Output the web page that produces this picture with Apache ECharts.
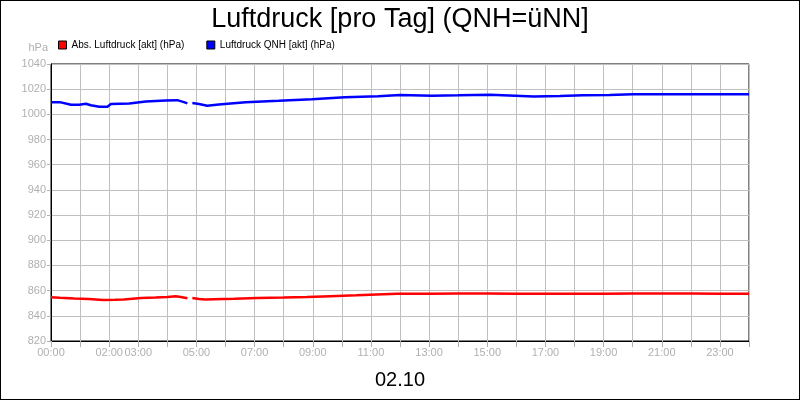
<!DOCTYPE html>
<html>
<head>
<meta charset="utf-8">
<script src="https://cdn.jsdelivr.net/npm/echarts@6/dist/echarts.min.js"></script>
<style>
  html, body { margin: 0; padding: 0; background: #fff; }
  #chart { width: 800px; height: 400px; box-sizing: border-box; border: 1px solid #000; }
</style>
</head>
<body>
<div id="chart"></div>
<script>
// hours of the day (null value = gap in the record)
var absHours = [0, 0.3, 0.8, 1.3, 1.8, 2.2, 2.5, 3.1, 3.6, 4.0, 4.29, 4.46, 4.69, 4.78, 4.86, 5.09, 5.31, 5.6, 6.3, 7.1, 8.0, 8.8, 9.6, 10.5, 11.2, 11.9, 13.0, 14.0, 15.0, 16.0, 17.0, 18.0, 19.0, 20.0, 21.0, 22.0, 23.0, 24.0];
var absValues = [854.7, 854.3, 853.7, 853.3, 852.6, 852.7, 852.9, 854.2, 854.6, 855.0, 855.6, 855.0, 854.0, null, 854.2, 853.4, 852.9, 853.2, 853.6, 854.2, 854.5, 855.0, 855.6, 856.3, 857.0, 857.6, 857.6, 857.7, 857.8, 857.6, 857.6, 857.6, 857.5, 857.7, 857.8, 857.7, 857.6, 857.6];

var qnhHours = [0, 0.3, 0.69, 0.97, 1.2, 1.37, 1.66, 1.94, 2.06, 2.69, 3.26, 3.94, 4.34, 4.57, 4.69, 4.78, 4.86, 5.09, 5.37, 5.77, 6.69, 7.83, 8.97, 10.1, 11.25, 12.0, 13.1, 14.0, 15.1, 16.6, 17.5, 18.3, 19.2, 20.0, 21.0, 22.0, 23.0, 24.0];
var qnhValues = [1009.7, 1009.7, 1007.7, 1007.7, 1008.4, 1007.2, 1006.1, 1006.1, 1008.2, 1008.7, 1010.2, 1011.0, 1011.3, 1009.7, 1008.7, null, 1009.0, 1008.2, 1006.9, 1007.9, 1009.7, 1010.8, 1012.0, 1013.6, 1014.3, 1015.4, 1014.8, 1015.1, 1015.6, 1014.1, 1014.6, 1015.1, 1015.4, 1015.9, 1015.9, 1015.9, 1015.9, 1015.9];

var labelHours = [0, 2, 3, 5, 7, 9, 11, 13, 15, 17, 19, 21, 23];
var dayLabel = '02.10';

function pairs(xs, ys) {
    return xs.map(function (x, i) { return [x, ys[i]]; });
}

var myChart = echarts.init(document.getElementById('chart'));

var option = {
    animation: false,
    textStyle: { fontFamily: 'Liberation Sans, Arial, sans-serif' },
    title: [
        {
            text: 'Luftdruck [pro Tag] (QNH=üNN]',
            left: 'center',
            top: 0,
            textStyle: { fontSize: 27, fontWeight: 'normal', color: '#000' }
        },
        {
            text: dayLabel,
            left: 'center',
            top: 364,
            textStyle: { fontSize: 20, fontWeight: 'normal', color: '#000' }
        }
    ],
    legend: {
        left: 52,
        top: 34,
        itemWidth: 8,
        itemHeight: 8,
        itemGap: 22,
        icon: 'rect',
        textStyle: { fontSize: 10, color: '#000' },
        data: [
            { name: 'Abs. Luftdruck [akt] (hPa)', itemStyle: { color: '#ff0000', borderColor: '#000', borderWidth: 1 } },
            { name: 'Luftdruck QNH [akt] (hPa)', itemStyle: { color: '#0000ff', borderColor: '#000', borderWidth: 1 } }
        ]
    },
    grid: {
        left: 50,
        right: 50,
        top: 63,
        bottom: 58,
        show: true,
        borderColor: '#000',
        borderWidth: 1
    },
    xAxis: {
        type: 'value',
        min: 0,
        max: 24,
        interval: 1,
        axisLine: { show: true, onZero: false, lineStyle: { color: '#000' } },
        axisTick: { show: true, length: 6, lineStyle: { color: '#b0b0b0' } },
        splitLine: { show: true, lineStyle: { color: '#c0c0c0' } },
        axisLabel: {
            color: '#b0b0b0',
            fontSize: 11,
            margin: 6,
            showMaxLabel: true,
            formatter: function (v) {
                if (labelHours.indexOf(v) < 0) return '';
                return (v < 10 ? '0' : '') + v + ':00';
            }
        }
    },
    yAxis: {
        type: 'value',
        min: 820,
        max: 1040,
        interval: 20,
        name: 'hPa',
        nameLocation: 'end',
        nameGap: 11,
        nameTextStyle: { color: '#b0b0b0', fontSize: 11, align: 'right', padding: [0, 3, 0, 0] },
        axisLine: { show: true, lineStyle: { color: '#000' } },
        axisTick: { show: true, length: 4, lineStyle: { color: '#b0b0b0' } },
        splitLine: { show: true, lineStyle: { color: '#c0c0c0' } },
        axisLabel: {
            color: '#b0b0b0',
            fontSize: 11,
            margin: 5,
            formatter: function (v) { return String(v); }
        }
    },
    series: [
        {
            name: 'Abs. Luftdruck [akt] (hPa)',
            type: 'line',
            showSymbol: false,
            connectNulls: false,
            color: '#ff0000',
            lineStyle: { width: 2.5, color: '#ff0000' },
            data: pairs(absHours, absValues)
        },
        {
            name: 'Luftdruck QNH [akt] (hPa)',
            type: 'line',
            showSymbol: false,
            connectNulls: false,
            color: '#0000ff',
            lineStyle: { width: 2.5, color: '#0000ff' },
            data: pairs(qnhHours, qnhValues)
        }
    ]
};

myChart.setOption(option);
</script>
</body>
</html>
